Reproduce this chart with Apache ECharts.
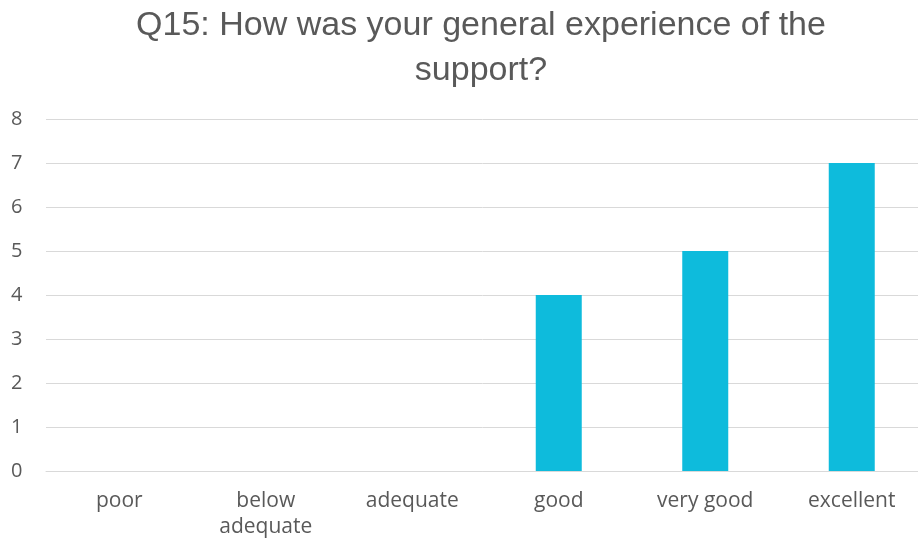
<!DOCTYPE html>
<html>
<head>
<meta charset="utf-8">
<script src="https://cdn.jsdelivr.net/npm/echarts@6/dist/echarts.min.js"></script>
<style>
  html, body { margin: 0; padding: 0; background: #fff; }
  #chart { width: 918px; height: 539px; }
</style>
</head>
<body>
<div id="chart"></div>
<script>
// 数据
const categories = ['poor', 'below\nadequate', 'adequate', 'good', 'very good', 'excellent'];
const counts = [0, 0, 0, 4, 5, 7];
const yTicks = { min: 0, max: 8, interval: 1 };

const myChart = echarts.init(document.getElementById('chart'));
myChart.setOption({
  animation: false,
  title: {
    text: 'Q15: How was your general experience of the\nsupport?',
    left: 481,
    textAlign: 'center',
    top: 0,
    padding: [3, 0, 0, 0],
    textStyle: {
      color: '#595959',
      fontSize: 34,
      fontWeight: 'normal',
      fontFamily: '"Liberation Sans", Arial, sans-serif',
      lineHeight: 45,
    },
  },
  grid: {
    left: 46,
    width: 879,
    top: 119,
    bottom: 68,
    containLabel: false,
    outerBoundsMode: 'none',
  },
  xAxis: {
    type: 'category',
    data: categories,
    axisLine: { lineStyle: { color: '#d9d9d9', width: 1 } },
    axisTick: { show: false },
    axisLabel: {
      color: '#595959',
      fontSize: 21,
      fontFamily: '"Open Sans", "Liberation Sans", sans-serif',
      lineHeight: 26,
      margin: 17,
      interval: 0,
    },
  },
  yAxis: {
    type: 'value',
    min: yTicks.min,
    max: yTicks.max,
    interval: yTicks.interval,
    axisLine: { show: false },
    axisTick: { show: false },
    splitLine: { lineStyle: { color: '#d9d9d9', width: 1 } },
    axisLabel: {
      color: '#595959',
      fontSize: 20,
      fontFamily: '"Open Sans", "Liberation Sans", sans-serif',
      margin: 35,
      align: 'left',
    },
  },
  series: [{
    type: 'bar',
    data: counts,
    barWidth: 46,
    itemStyle: { color: '#0EBBDC' },
  }],
});
</script>
</body>
</html>
